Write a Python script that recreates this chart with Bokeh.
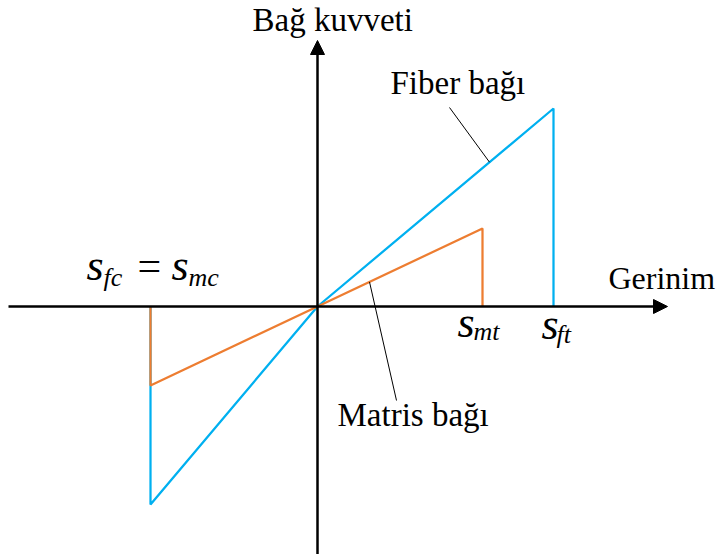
from bokeh.plotting import figure
from bokeh.models import Range1d, Arrow, NormalHead, Label
from bokeh.embed import file_html
from bokeh.resources import INLINE

# ---- data (strain, bond force) ----
fiber_strain = [-1.67, -1.67, 0.0, 2.36, 2.36]
fiber_force = [0.0, -1.98, 0.0, 1.98, 0.0]
matrix_strain = [-1.67, -1.67, 0.0, 1.65, 1.65]
matrix_force = [0.0, -0.79, 0.0, 0.78, 0.0]

x_label = "Gerinim"
y_label = "Bağ kuvveti"
fiber_label = "Fiber bağı"
matrix_label = "Matris bağı"

BLUE = "#00B0F0"
ORANGE = "#ED7D31"
FONT = "Liberation Serif"

p = figure(width=719, height=554, output_backend="svg", toolbar_location=None,
           x_range=Range1d(-3.17, 4.02), y_range=Range1d(-2.48, 3.06),
           min_border=0, outline_line_color=None)
p.axis.visible = False
p.grid.visible = False
p.background_fill_color = "white"
p.border_fill_color = "white"

# axes with arrows
p.add_layout(Arrow(end=NormalHead(size=14, fill_color="black", line_color="black"),
                   x_start=-3.09, y_start=0, x_end=3.50, y_end=0,
                   line_color="black", line_width=2.5))
p.add_layout(Arrow(end=NormalHead(size=14, fill_color="black", line_color="black"),
                   x_start=0, y_start=-2.48, x_end=0, y_end=2.66,
                   line_color="black", line_width=2.5))

# curves
p.line(fiber_strain, fiber_force, line_color=BLUE, line_width=2.25)
p.line(matrix_strain, matrix_force, line_color=ORANGE, line_width=2.25)

# leader lines (lower end placed on each curve)
fx = 1.72
fy = fx / fiber_strain[3] * fiber_force[3]
mx = 0.52
my = mx / matrix_strain[3] * matrix_force[3]
p.segment(x0=[1.32, mx], y0=[1.99, my], x1=[fx, 0.79], y1=[fy, -0.94],
          line_color="black", line_width=1)

def lab(x, y, text, size, style="normal"):
    p.add_layout(Label(x=x, y=y, text=text, text_font=FONT,
                       text_font_size=f"{size}px", text_font_style=style,
                       text_color="black", text_align="left",
                       text_baseline="alphabetic"))

lab(-0.65, 2.87, y_label, 33)
lab(2.91, 0.29, x_label, 32)
lab(0.73, 2.24, fiber_label, 33)
lab(0.20, -1.08, matrix_label, 33)

# s_fc = s_mc
lab(-2.31, 0.41, "s", 44, "italic")
lab(-2.14, 0.29, "fc", 26, "italic")
lab(-1.80, 0.41, "=", 42)
lab(-1.46, 0.41, "s", 44, "italic")
lab(-1.29, 0.29, "mc", 26, "italic")
# s_mt
lab(1.40, -0.16, "s", 44, "italic")
lab(1.56, -0.25, "mt", 26, "italic")
# s_ft
lab(2.24, -0.18, "s", 44, "italic")
lab(2.39, -0.28, "ft", 26, "italic")

open("out.html", "w").write(file_html(p, INLINE))
